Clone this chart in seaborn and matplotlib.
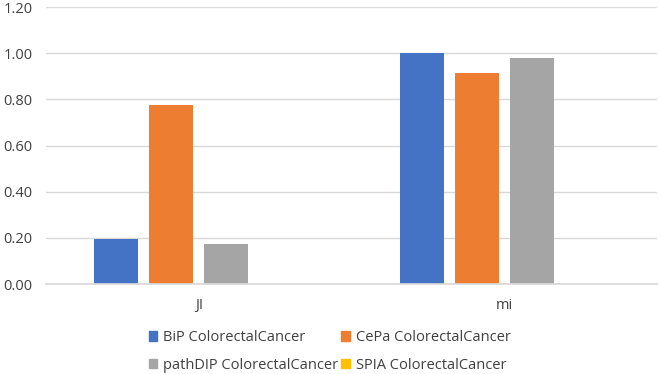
import matplotlib
import matplotlib.pyplot as plt
import pandas as pd
import seaborn as sns

matplotlib.use("Agg")

# ---------------------------------------------------------------------------
# Data
# ---------------------------------------------------------------------------
metrics = ["JI", "mi"]
series  = ["BiP ColorectalCancer", "CePa ColorectalCancer",
           "pathDIP ColorectalCancer", "SPIA ColorectalCancer"]
bip     = [0.195, 1.00]
cepa    = [0.776, 0.913]
pathdip = [0.173, 0.979]
spia    = [0.0, 0.0]
yticks  = [0.0, 0.2, 0.4, 0.6, 0.8, 1.0, 1.2]

colors = ["#4472C4", "#ED7D31", "#A5A5A5", "#FFC000"]

rows = []
for name, vals in zip(series, [bip, cepa, pathdip, spia]):
    for m, v in zip(metrics, vals):
        rows.append({"metric": m, "series": name, "value": v})
df = pd.DataFrame(rows)

sns.set_theme(style="white")
plt.rcParams["font.family"] = ["Open Sans", "DejaVu Sans"]

fig = plt.figure(figsize=(6.6, 3.74), dpi=100)
ax = fig.add_axes([0.07, 0.2406, 0.925, 0.7406])

sns.barplot(data=df, x="metric", y="value", hue="series", hue_order=series,
            palette=colors, width=0.72, gap=0.2, ax=ax, legend=False,
            saturation=1, edgecolor="none")

ax.set_ylim(0, 1.2)
ax.set_yticks(yticks)
ax.set_yticklabels([f"{t:.2f}" for t in yticks])
ax.yaxis.grid(True, color="#D9D9D9", linewidth=1)
ax.set_axisbelow(True)
ax.set_xlabel("")
ax.set_ylabel("")
for side in ["top", "right", "left"]:
    ax.spines[side].set_visible(False)
ax.spines["bottom"].set_color("#D9D9D9")
ax.tick_params(axis="y", length=0, labelsize=10.5, colors="#404040", pad=10)
ax.tick_params(axis="x", length=0, labelsize=10.5, colors="#404040", pad=10)

# Excel fills the legend row by row; matplotlib fills by column
handles = [plt.Rectangle((0, 0), 1, 1, color=c) for c in colors]
order = [0, 2, 1, 3]
fig.legend([handles[i] for i in order], [series[i] for i in order],
           loc="upper left", bbox_to_anchor=(0.225, 0.117),
           ncol=2, frameon=False, fontsize=10.5, handlelength=0.6, handleheight=0.6,
           handletextpad=0.4, columnspacing=0.2, labelspacing=0.85,
           borderaxespad=0, borderpad=0, labelcolor="#404040")

fig.savefig("out.png", dpi=100)
